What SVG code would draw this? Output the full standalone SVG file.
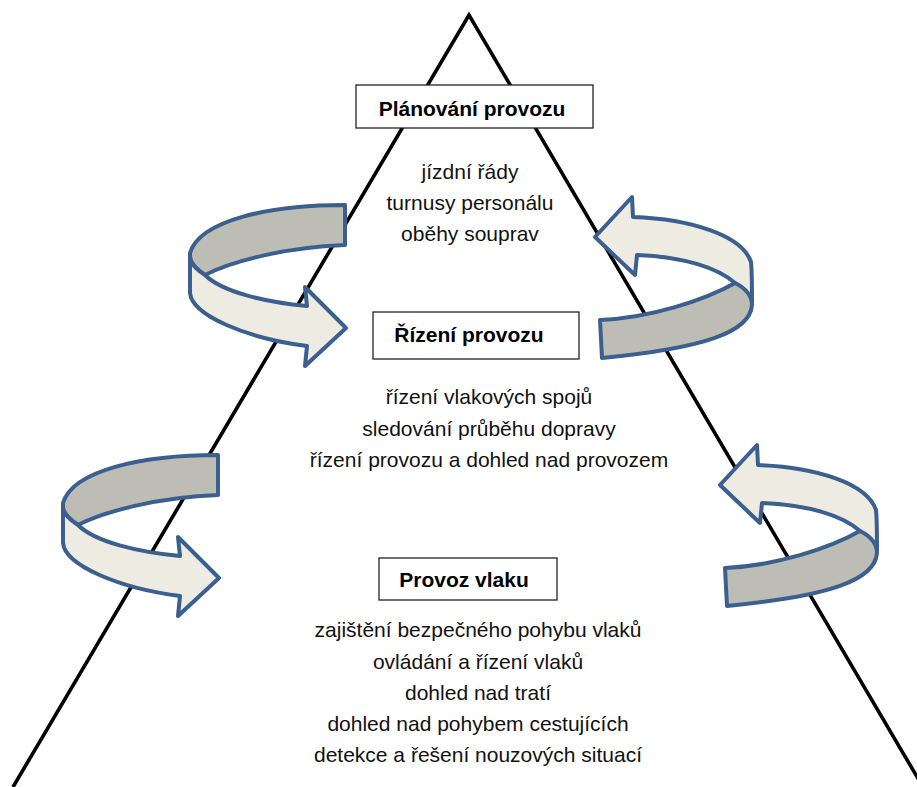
<svg xmlns="http://www.w3.org/2000/svg" width="917" height="787" viewBox="0 0 917 787">
<style>
.tri{fill:none;stroke:#000;stroke-width:3.6}
.box{fill:#fff;stroke:#222;stroke-width:1.3}
.h{font-family:"Liberation Sans",Arial,sans-serif;font-size:21px;font-weight:bold;fill:#000;text-anchor:middle}
.t{font-family:"Liberation Sans",Arial,sans-serif;font-size:21px;fill:#111;text-anchor:middle}
.g{fill:#BEBDB5;stroke:#3B5F8E;stroke-width:4;stroke-linejoin:round}
.l{fill:#EEECE2;stroke:#3B5F8E;stroke-width:4;stroke-linejoin:round}
</style>
<defs>
<g id="arrowR">
<path class="g" d="M345,205 C270,205 200,220 190,253 L190,260 C194,267 199,271 205,275 C230,262 285,247 345,245 Z"/>
<path class="l" d="M190,256 L190,293 C192,315 245,338 307,346 L305,366 L346,328 L305,287 L307,306 C265,302 222,292 205,275 C197,270 190,264 190,256 Z"/>
</g>
<g id="arrowL">
<path class="l" d="M632,197 L633,217 C690,219 742,235 751,262 C752,272 752,290 752,302 L740,290 C738,288 737,285 735,283 C718,268 685,257 637,255 L635,275 L595,237 Z"/>
<path class="g" d="M600,320 C650,318 705,300 735,283 C745,288 752,295 752,305 C750,332 705,348 602,358 Z"/>
</g>
</defs>
<g id="pyramid">
<path class="tri" d="M13,787 L469,15 L923,787"/>
</g>
<g id="connectors">
<use href="#arrowR"/>
<use href="#arrowL"/>
<use href="#arrowR" transform="translate(-127,250)"/>
<use href="#arrowL" transform="translate(125,248)"/>
</g>
<g id="planovani">
<rect class="box" x="356" y="85" width="237" height="43"/>
<text class="h" x="472" y="116">Plánování provozu</text>
<text class="t" x="470" y="179">jízdní řády</text>
<text class="t" x="470" y="210">turnusy personálu</text>
<text class="t" x="470" y="241">oběhy souprav</text>
</g>
<g id="rizeni">
<rect class="box" x="373" y="312" width="206" height="47"/>
<text class="h" x="469" y="342">Řízení provozu</text>
<text class="t" x="489" y="404">řízení vlakových spojů</text>
<text class="t" x="489" y="436">sledování průběhu dopravy</text>
<text class="t" x="489" y="467">řízení provozu a dohled nad provozem</text>
</g>
<g id="provoz">
<rect class="box" x="379" y="558" width="178" height="42"/>
<text class="h" x="464" y="587">Provoz vlaku</text>
<text class="t" x="478" y="637">zajištění bezpečného pohybu vlaků</text>
<text class="t" x="478" y="669">ovládání a řízení vlaků</text>
<text class="t" x="478" y="700">dohled nad tratí</text>
<text class="t" x="478" y="731">dohled nad pohybem cestujících</text>
<text class="t" x="478" y="762">detekce a řešení nouzových situací</text>
</g>
</svg>
